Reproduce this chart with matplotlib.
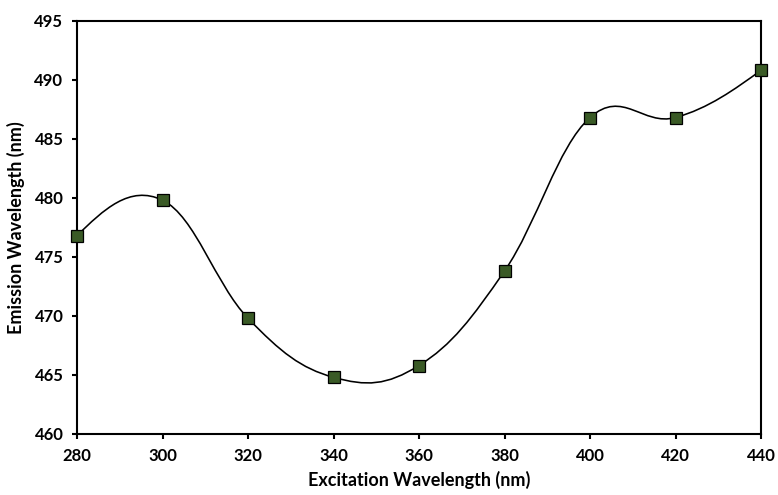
import matplotlib
matplotlib.use("Agg")
import matplotlib.pyplot as plt
import numpy as np
from matplotlib.path import Path
from matplotlib.patches import PathPatch

plt.rcParams["font.family"] = ["Lato", "DejaVu Sans"]
plt.rcParams["font.weight"] = "bold"

excitation_nm = [280, 300, 320, 340, 360, 380, 400, 420, 440]
emission_nm = [476.8, 479.8, 469.8, 464.8, 465.8, 473.8, 486.8, 486.8, 490.8]

x_ticks = [280, 300, 320, 340, 360, 380, 400, 420, 440]
y_ticks = [460, 465, 470, 475, 480, 485, 490, 495]

MARKER_GREEN = "#3a5a26"
TENSION = 1.15  # >1 gives a slightly looser curve than plain Catmull-Rom


def smooth_path(xs, ys, tension=TENSION):
    """Cubic Bezier path through every point, spreadsheet-style smoothing."""
    pts = np.column_stack([xs, ys]).astype(float)
    n = len(pts)
    m = np.zeros_like(pts)
    for i in range(1, n - 1):
        m[i] = tension * (pts[i + 1] - pts[i - 1]) / 2
    # natural-style end tangents
    m[0] = (3 * (pts[1] - pts[0]) - m[1]) / 2
    m[-1] = (3 * (pts[-1] - pts[-2]) - m[-2]) / 2

    verts = [tuple(pts[0])]
    codes = [Path.MOVETO]
    for i in range(n - 1):
        verts += [tuple(pts[i] + m[i] / 3), tuple(pts[i + 1] - m[i + 1] / 3), tuple(pts[i + 1])]
        codes += [Path.CURVE4] * 3
    return Path(verts, codes)


fig = plt.figure(figsize=(7.78, 4.95), dpi=100)
ax = fig.add_axes([77 / 778, 61 / 495, 684 / 778, 413.3 / 495])

ax.add_patch(PathPatch(smooth_path(excitation_nm, emission_nm), facecolor="none",
                       edgecolor="black", linewidth=1.15, zorder=2))
ax.plot(excitation_nm, emission_nm, linestyle="none", marker="s", markersize=8.4,
        markerfacecolor=MARKER_GREEN, markeredgecolor="black", markeredgewidth=0.9,
        zorder=3, clip_on=False)

ax.set_xlim(280, 440)
ax.set_ylim(460, 495)
ax.set_xticks(x_ticks)
ax.set_yticks(y_ticks)

for s in ax.spines.values():
    s.set_linewidth(1.5)
    s.set_color("black")
ax.tick_params(direction="out", length=3.8, width=1.5, labelsize=12, pad=6, colors="black")

ax.set_xlabel("Excitation Wavelength (nm)", fontsize=13, fontweight="bold", labelpad=5)
ax.set_ylabel("Emission Wavelength (nm)", fontsize=13, fontweight="bold", labelpad=7)

fig.savefig("out.png", dpi=100)
